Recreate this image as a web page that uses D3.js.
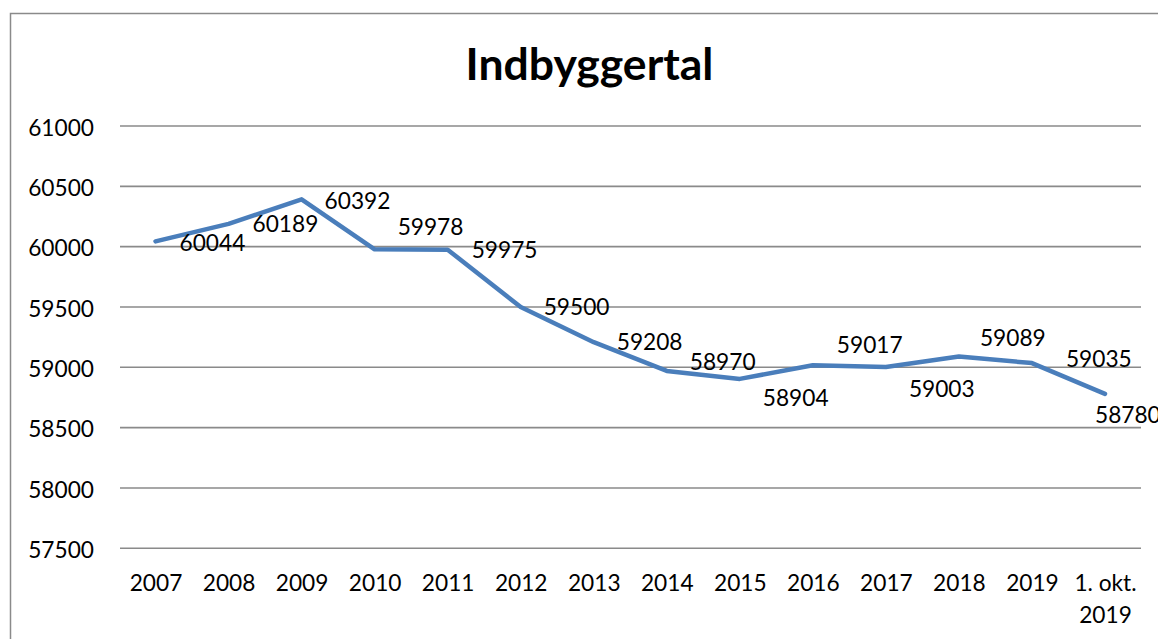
<!DOCTYPE html>
<html>
<head>
<meta charset="utf-8">
<script src="https://cdn.jsdelivr.net/npm/d3@7"></script>
<style>
  html, body { margin: 0; padding: 0; background: #fff; }
  svg { display: block; }
  text { font-family: Lato, "Open Sans", sans-serif; fill: #000; }
</style>
</head>
<body>
<div id="chart"></div>
<script>
// ---- data ----
const categories = ["2007", "2008", "2009", "2010", "2011", "2012", "2013",
  "2014", "2015", "2016", "2017", "2018", "2019", "1. okt. 2019"];
const values = [60044, 60189, 60392, 59978, 59975, 59500, 59208,
  58970, 58904, 59017, 59003, 59089, 59035, 58780];
const yTicks = [57500, 58000, 58500, 59000, 59500, 60000, 60500, 61000];
const title = "Indbyggertal";

// label nudges (pixels, relative to each point) — layout only
const labelDx = [24, 24, 23, 23, 24, 23, 23, 23, 23, 24, 23, 21, 34, -10];
const labelDy = [1, 0, 1, -22, 0, 0, 0, -9, 19, -20, 22, -19, -4, 21];

// ---- layout ----
const W = 1158, H = 639;
const plot = { left: 119, right: 1141.5, top: 126, bottom: 548.3 };
const FS = 22.7;

const svg = d3.select("#chart").append("svg")
  .attr("width", W).attr("height", H);

// outer chart border (continues past the right/bottom edge)
svg.append("rect")
  .attr("x", 10.5).attr("y", 13.5)
  .attr("width", W + 20).attr("height", H + 20)
  .attr("fill", "none").attr("stroke", "#8a8a8a").attr("stroke-width", 1.5);

const x = d3.scalePoint().domain(categories)
  .range([plot.left, plot.right]).padding(0.5);
const y = d3.scaleLinear().domain([57500, 61000])
  .range([plot.bottom, plot.top]);

// gridlines
svg.append("g").selectAll("line").data(yTicks).join("line")
  .attr("x1", 120).attr("x2", 1141)
  .attr("y1", d => y(d)).attr("y2", d => y(d))
  .attr("stroke", "#8a8a8a").attr("stroke-width", 1.6);

// y axis labels
const yAxis = d3.axisLeft(y).tickValues(yTicks).tickSize(0).tickPadding(0)
  .tickFormat(d3.format("d"));
const gy = svg.append("g").attr("transform", "translate(94,0)").call(yAxis);
gy.select(".domain").remove();
gy.selectAll("text")
  .attr("font-family", "Lato, 'Open Sans', sans-serif")
  .attr("font-size", FS).attr("fill", "#000")
  .attr("dy", "0.40em");

// x axis labels
const xAxis = d3.axisBottom(x).tickSize(0).tickPadding(0);
const gx = svg.append("g").attr("transform", "translate(0,591)").call(xAxis);
gx.select(".domain").remove();
gx.selectAll("text")
  .attr("font-family", "Lato, 'Open Sans', sans-serif")
  .attr("font-size", FS).attr("fill", "#000")
  .attr("y", 0).attr("dy", 0)
  .each(function(d) {
    const t = d3.select(this);
    const parts = d.length > 6 ? [d.slice(0, d.lastIndexOf(" ")), d.slice(d.lastIndexOf(" ") + 1)] : [d];
    t.text(null);
    parts.forEach((p, i) => {
      t.append("tspan").attr("x", 0).attr("y", i * 32).text(p);
    });
  });

// line
const line = d3.line()
  .x((d, i) => x(categories[i]))
  .y(d => y(d));
svg.append("path")
  .datum(values)
  .attr("d", line)
  .attr("fill", "none")
  .attr("stroke", "#4a7ebb")
  .attr("stroke-width", 4.5)
  .attr("stroke-linejoin", "round")
  .attr("stroke-linecap", "round");

// data labels
svg.append("g").selectAll("text").data(values).join("text")
  .attr("x", (d, i) => x(categories[i]) + labelDx[i])
  .attr("y", (d, i) => y(d) + labelDy[i])
  .attr("dy", "0.36em")
  .attr("font-size", FS)
  .text(d => d);

// title
svg.append("text")
  .attr("x", 589.5).attr("y", 80)
  .attr("text-anchor", "middle")
  .attr("font-size", 44.5).attr("font-weight", "bold")
  .text(title);
</script>
</body>
</html>
